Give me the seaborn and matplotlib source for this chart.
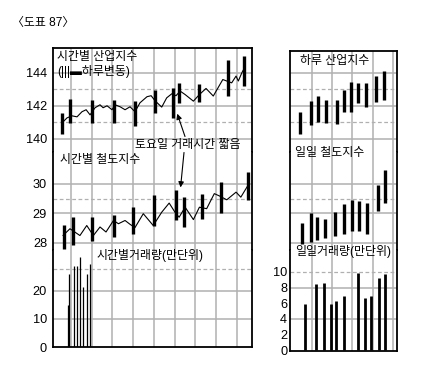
import matplotlib
matplotlib.use("Agg")
import matplotlib.pyplot as plt
import seaborn as sns

# ---- 시간별 (left panel), x in day units ----
ind_hour_x = [0.57, 0.81, 1.05, 1.29, 1.53, 1.73, 1.92, 2.16, 2.40, 2.55, 2.74, 2.98, 3.13,
              3.37, 3.61, 3.85, 4.09, 4.33, 4.67, 4.87, 5.06, 5.38, 5.62, 5.87, 6.07, 6.27,
              6.51, 6.91, 7.20, 7.52, 7.87, 8.33, 8.52, 8.76, 8.97, 9.08, 9.25, 9.36]
ind_hour_y = [140.97, 141.27, 141.39, 141.33, 141.64, 141.76, 141.45, 141.88, 142.06, 141.88,
              142.00, 141.76, 142.06, 141.94, 141.76, 141.94, 141.64, 142.18, 142.55, 142.61,
              142.30, 141.92, 142.48, 142.73, 142.61, 142.89, 142.68, 142.28, 142.68, 143.05,
              142.59, 143.59, 143.50, 143.39, 143.80, 143.50, 144.00, 144.26]
ind_bar_x = [0.57, 0.97, 2.03, 3.08, 4.09, 5.06, 5.91, 6.22, 7.20, 8.57, 9.37]
ind_bar_hi = [141.58, 142.42, 142.32, 142.36, 142.26, 142.93, 143.05, 143.39, 143.33, 144.75, 145.01]
ind_bar_lo = [140.30, 140.97, 140.95, 140.95, 140.79, 141.58, 141.23, 142.18, 142.24, 142.59, 143.19]

rail_hour_x = [0.61, 0.95, 1.43, 1.76, 2.08, 2.40, 2.69, 3.05, 3.29, 3.61, 3.85, 4.09, 4.49,
               4.97, 5.38, 5.74, 6.02, 6.22, 6.51, 6.91, 7.20, 7.55, 7.92, 8.20, 8.52, 8.97,
               9.20, 9.52]
rail_hour_y = [28.25, 28.48, 28.25, 28.59, 28.25, 28.54, 28.37, 28.76, 28.65, 28.76, 28.63,
               28.52, 28.99, 28.59, 29.04, 29.35, 29.04, 28.87, 29.21, 28.79, 29.21, 29.16,
               29.67, 29.58, 29.46, 29.72, 29.55, 29.92]
rail_bar_x = [0.64, 1.10, 2.03, 3.06, 4.00, 5.01, 6.07, 6.46, 7.31, 8.25, 9.54]
rail_bar_hi = [28.62, 28.87, 28.87, 28.96, 29.21, 29.61, 29.78, 29.55, 29.67, 30.06, 30.40]
rail_bar_lo = [27.78, 27.92, 28.05, 28.20, 28.31, 28.59, 28.76, 28.54, 28.82, 29.01, 29.44]

vol_hour_x = [0.86, 0.92, 1.15, 1.30, 1.44, 1.59, 1.79, 1.92]
vol_hour_y = [15, 26, 29, 29, 32, 21.5, 26, 29.5]

# ---- 일일 (right panel) ----
day_ind_x = [-0.59, -0.05, 0.31, 0.68, 1.22, 1.58, 1.93, 2.29, 2.67, 3.15, 3.56]
day_ind_hi = [141.64, 142.32, 142.59, 142.38, 142.38, 142.99, 143.45, 143.39, 143.39, 143.80, 144.14]
day_ind_lo = [140.30, 140.83, 141.03, 140.97, 140.87, 141.64, 141.64, 142.18, 141.92, 142.24, 142.38]

day_rail_x = [-0.51, -0.05, 0.26, 0.64, 1.14, 1.58, 1.96, 2.32, 2.70, 3.27, 3.61]
day_rail_hi = [28.67, 29.01, 28.87, 28.82, 29.04, 29.33, 29.44, 29.41, 29.35, 29.95, 30.46]
day_rail_lo = [27.97, 28.03, 28.11, 28.18, 28.25, 28.31, 28.40, 28.42, 28.31, 29.08, 29.35]

day_vol_x = [-0.35, 0.18, 0.59, 0.94, 1.19, 1.58, 2.26, 2.62, 2.90, 3.31, 3.61]
day_vol_y = [5.9, 8.5, 8.6, 5.9, 6.3, 6.9, 9.9, 6.7, 6.9, 9.2, 9.7]

ind_ticks = [140, 142, 144]
rail_ticks = [28, 29, 30]
vol_ticks = [0, 10, 20]
day_vol_ticks = [0, 2, 4, 6, 8, 10]

sns.set_style("white")
plt.rcParams['font.family'] = ['Liberation Sans', 'Noto Sans CJK KR', 'DejaVu Sans']

W, H = 432, 389
fig = plt.figure(figsize=(W / 100, H / 100), dpi=100)
GRID = '#b0b0b0'


def box(x0, x1, y0, y1):
    return [x0 / W, 1 - y1 / H, (x1 - x0) / W, (y1 - y0) / H]


def fpos(x, y):
    return (x / W, 1 - y / H)


def frame(ax, xlim, ylim, vgrid, solid, dashed, ticks, where, pad):
    ax.set_xlim(xlim)
    ax.set_ylim(ylim)
    for v in vgrid:
        ax.axvline(v, color=GRID, lw=1.1, zorder=0)
    for h in solid:
        ax.axhline(h, color=GRID, lw=1.1, zorder=0)
    for h in dashed:
        ax.axhline(h, color=GRID, lw=0.9, ls=(0, (3, 2)), zorder=0)
    ax.set_xticks([])
    ax.set_yticks(ticks)
    ax.tick_params(axis='y', length=0, pad=pad, labelsize=9.2, colors='black')
    for s in ax.spines.values():
        s.set_color('black')
        s.set_linewidth(1.3)
    if where != 'top':
        ax.spines['top'].set_visible(False)
    if where != 'bottom':
        ax.spines['bottom'].set_visible(False)


ax_ind = fig.add_axes(box(53, 252, 48, 152))
ax_rail = fig.add_axes(box(53, 252, 152, 250))
ax_vol = fig.add_axes(box(53, 252, 250, 347))
dx_ind = fig.add_axes(box(290, 397, 51, 152))
dx_rail = fig.add_axes(box(290, 397, 152, 250))
dx_vol = fig.add_axes(box(290, 397, 250, 351))

left_x = (0.13, 9.74)
left_v = list(range(1, 10))
right_x = (-1.086, 4.2)
right_v = [0, 1, 2, 3, 4]

frame(ax_ind, left_x, (139.2, 145.5), left_v, [140, 142, 144], [141, 143], ind_ticks, 'top', 4.3)
frame(ax_rail, left_x, (27.76, 31.08), left_v, [28, 29, 30], [29.5], rail_ticks, 'mid', 4.3)
frame(ax_vol, left_x, (0, 34.6), left_v, [10, 20], [28], vol_ticks, 'bottom', 4.3)
frame(dx_ind, right_x, (139.2, 145.33), right_v, [140, 142, 144], [141, 143], [], 'top', 2)
frame(dx_rail, right_x, (27.76, 31.08), right_v, [28, 29, 30], [29.5], [], 'mid', 2)
frame(dx_vol, right_x, (-0.1, 12.8), right_v, [4, 8], [10], day_vol_ticks, 'bottom', 2)

sns.lineplot(x=ind_hour_x, y=ind_hour_y, ax=ax_ind, color='black', lw=0.8,
             estimator=None, sort=False)
ax_ind.vlines(ind_bar_x, ind_bar_lo, ind_bar_hi, color='black', lw=2.4)
sns.lineplot(x=rail_hour_x, y=rail_hour_y, ax=ax_rail, color='black', lw=0.8,
             estimator=None, sort=False)
ax_rail.vlines(rail_bar_x, rail_bar_lo, rail_bar_hi, color='black', lw=2.4)
ax_vol.vlines(vol_hour_x, 0, vol_hour_y, color='black', lw=0.9)

dx_ind.vlines(day_ind_x, day_ind_lo, day_ind_hi, color='black', lw=2.4)
dx_rail.vlines(day_rail_x, day_rail_lo, day_rail_hi, color='black', lw=2.4)
dx_vol.vlines(day_vol_x, 0, day_vol_y, color='black', lw=2.0)

kr = dict(fontsize=8.6, ha='left', va='center', color='black')
fig.text(*fpos(12, 23), '〈도표 87〉', **kr)
fig.text(*fpos(57, 57), '시간별 산업지수', **kr)
fig.text(*fpos(57, 71), '(|||▬하루변동)', **kr)
fig.text(*fpos(135, 145), '토요일 거래시간 짧음', **kr)
fig.text(*fpos(60, 160), '시간별 철도지수', **kr)
fig.text(*fpos(97, 255), '시간별거래량(만단위)', **kr)
fig.text(*fpos(300, 61), '하루 산업지수', **kr)
fig.text(*fpos(295, 153), '일일 철도지수', **kr)
fig.text(*fpos(295, 252), '일일거래량(만단위)', **kr)

arrow = dict(arrowstyle='-|>', lw=0.8, color='black', mutation_scale=8, shrinkA=0, shrinkB=0)
ax_ind.annotate('', xy=(6.13, 141.52), xytext=fpos(185, 136.5),
                textcoords='figure fraction', arrowprops=arrow)
ax_rail.annotate('', xy=(6.29, 29.88), xytext=fpos(184, 152.5),
                 textcoords='figure fraction', arrowprops=arrow)

fig.savefig('out.png', dpi=100)
